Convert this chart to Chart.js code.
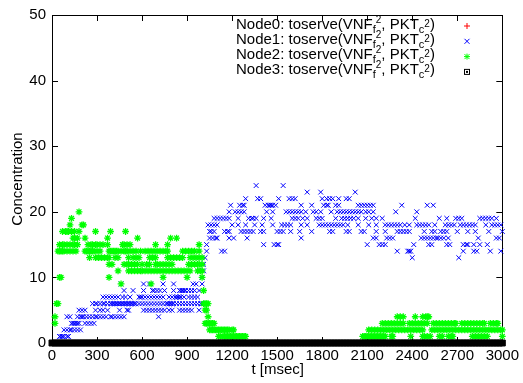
<!DOCTYPE html>
<html>
<head>
<meta charset="utf-8">
<script src="https://cdn.jsdelivr.net/npm/chart.js@4.4.1/dist/chart.umd.min.js"></script>
<style>
  html, body { margin: 0; padding: 0; background: #fff; }
  #wrap { width: 523px; height: 383px; }
</style>
</head>
<body>
<div id="wrap"><canvas id="conc" width="523" height="383"></canvas></div>
<script>
// concentration of toserve(VNF_f2, PKT_c2) per node over time

const xTicks = [0, 300, 600, 900, 1200, 1500, 1800, 2100, 2400, 2700, 3000];
const yTicks = [0, 10, 20, 30, 40, 50];
const nodeNames = ['Node0', 'Node1', 'Node2', 'Node3'];

// sample times where Node0 / Node3 sit at zero
const zeroTimes = [
  0, 20, 40, 60, 80, 100, 120, 140, 160, 180,
  200, 220, 240, 260, 280, 300, 320, 340, 360, 380,
  400, 420, 440, 460, 480, 500, 520, 540, 560, 580,
  600, 620, 640, 660, 680, 700, 720, 740, 760, 780,
  800, 820, 840, 860, 880, 900, 920, 940, 960, 980,
  1000, 1020, 1040, 1060, 1080, 1100, 1120, 1140, 1160, 1180,
  1200, 1220, 1240, 1260, 1280, 1300, 1320, 1340, 1360, 1380,
  1400, 1420, 1440, 1460, 1480, 1500, 1520, 1540, 1560, 1580,
  1600, 1620, 1640, 1660, 1680, 1700, 1720, 1740, 1760, 1780,
  1800, 1820, 1840, 1860, 1880, 1900, 1920, 1940, 1960, 1980,
  2000, 2020, 2040, 2060, 2080, 2100, 2120, 2140, 2160, 2180,
  2200, 2220, 2240, 2260, 2280, 2300, 2320, 2340, 2360, 2380,
  2400, 2420, 2440, 2460, 2480, 2500, 2520, 2540, 2560, 2580,
  2600, 2620, 2640, 2660, 2680, 2700, 2720, 2740, 2760, 2780,
  2800, 2820, 2840, 2860, 2880, 2900, 2920, 2940, 2960, 2980,
  3000
];

// [concentration, times at which that level was recorded]
const node0Rows = [[0, zeroTimes]];
const node3Rows = [[0, zeroTimes]];

const node1Rows = [
  [1, [50, 60, 70, 80, 100, 110]],
  [2, [80, 100, 120, 130, 150, 170, 190]],
  [3, [130, 140, 150, 160, 170, 180, 220, 240, 260, 280]],
  [4, [100, 120, 170, 190, 200, 210, 230, 250, 270, 290, 300, 320, 340, 360, 390, 400, 420, 440, 460, 480, 710]],
  [5, [180, 200, 220, 290, 320, 340, 370, 450, 500, 510, 610, 630, 650, 670, 690, 710, 730, 750, 780, 800, 850, 870, 890, 910, 930, 980]],
  [6, [270, 290, 300, 320, 340, 350, 370, 390, 400, 410, 420, 430, 440, 450, 460, 470, 480, 490, 500, 510, 520, 530, 540, 550, 560, 580, 600, 620, 640, 660, 680, 700, 720, 740, 760, 770, 780, 790, 800, 810, 830, 850, 870, 890, 910, 930, 950, 970, 990, 1000]],
  [7, [340, 360, 380, 400, 420, 440, 470, 490, 520, 580, 590, 600, 620, 640, 660, 680, 700, 720, 740, 780, 800, 820, 830, 840, 850, 860, 880, 910, 930, 950, 970]],
  [8, [480, 540, 610, 670, 680, 700, 720, 750, 810, 850, 860, 870, 880, 890, 910, 930, 950, 980]],
  [9, [460, 610, 650, 740, 810, 940, 960, 1000]],
  [10, [1000]],
  [11, [1010]],
  [12, [1010]],
  [13, [1020, 2400, 2710]],
  [14, [1030, 1130, 1150, 2300, 2370, 2380, 2390, 2740, 2810, 2830, 2920, 2990]],
  [15, [1030, 1410, 1480, 1500, 1510, 2100, 2180, 2200, 2220, 2410, 2510, 2530, 2630, 2650, 2740, 2760, 2770, 2810, 2850, 2900]],
  [16, [1050, 1070, 1090, 1100, 1180, 1210, 1300, 1660, 2140, 2160, 2230, 2250, 2270, 2460, 2480, 2500, 2520, 2540, 2560, 2570, 2590, 2610, 2640, 2840, 2960, 2980]],
  [17, [1050, 1060, 1080, 1150, 1170, 1180, 1260, 1280, 1300, 1320, 1340, 1390, 1410, 1500, 1520, 1540, 1590, 1650, 1730, 1850, 1870, 1960, 1980, 2060, 2080, 2160, 2220, 2300, 2320, 2340, 2360, 2380, 2480, 2530, 2550, 2590, 2610, 2630, 2700, 2770, 2820, 2910, 3000]],
  [18, [1040, 1060, 1080, 1100, 1200, 1240, 1290, 1350, 1400, 1470, 1530, 1550, 1570, 1590, 1660, 1700, 1780, 1800, 1820, 1840, 1860, 1880, 1900, 1920, 1940, 1970, 2040, 2110, 2160, 2220, 2240, 2260, 2280, 2300, 2320, 2350, 2380, 2430, 2450, 2470, 2490, 2510, 2550, 2620, 2640, 2660, 2680, 2720, 2740, 2760, 2780, 2800, 2820, 2890, 2930, 2950, 2970, 2990]],
  [19, [1080, 1100, 1120, 1140, 1160, 1180, 1240, 1310, 1330, 1340, 1360, 1410, 1460, 1600, 1620, 1640, 1670, 1700, 1760, 1780, 1800, 1890, 1930, 1950, 1970, 1990, 2010, 2040, 2090, 2130, 2160, 2200, 2420, 2580, 2630, 2690, 2710, 2730, 2850, 2870, 2890, 2910, 2930, 2960]],
  [20, [1180, 1220, 1240, 1260, 1280, 1430, 1470, 1560, 1580, 1600, 1620, 1640, 1660, 1690, 1740, 1760, 1790, 1860, 1900, 1920, 1940, 1960, 1980, 2000, 2020, 2040, 2060, 2090, 2110, 2140, 2290, 2430]],
  [21, [1190, 1250, 1270, 1280, 1420, 1440, 1450, 1460, 1470, 1490, 1660, 1730, 1810, 1830, 1840, 1890, 1910, 2040, 2060, 2080, 2100, 2120, 2140, 2330, 2500, 2540]],
  [22, [1290, 1370, 1390, 1510, 1580, 1600, 1620, 1800, 1830, 1850, 1870, 1910, 1960, 1980]],
  [23, [1700, 1790, 2020]],
  [24, [1360, 1540]]
];

const node2Rows = [
  [1, [1110, 1120, 1140, 1150, 1160, 1170, 1180, 1190, 1200, 1210, 1220, 1230, 1240, 1250, 1260, 1270, 1280, 1290,
       2070, 2080, 2090, 2100, 2110, 2120, 2130, 2140, 2150, 2160, 2170, 2180, 2190, 2200, 2210, 2220, 2260, 2270, 2390,
       2470, 2480, 2500, 2520, 2580, 2600, 2640, 2660, 2670, 2800, 2820, 2840, 2860, 2880, 2900, 3000]],
  [2, [1050, 1060, 1070, 1080, 1090, 1100, 1110, 1120, 1130, 1140, 1150, 1160, 1170, 1180, 1200, 1210,
       2110, 2130, 2150, 2170, 2190, 2210, 2230, 2250, 2270, 2290, 2310, 2330, 2350, 2370, 2390, 2410, 2430, 2450, 2470,
       2530, 2550, 2570, 2590, 2610, 2630, 2650, 2670, 2690, 2710, 2730, 2750, 2770, 2790, 2810, 2830, 2850, 2870,
       2890, 2910, 2930, 2950, 2970, 2990, 3000]],
  [3, [20, 1020, 1030, 1040, 1050, 1060, 1070, 1080,
       2200, 2220, 2240, 2260, 2280, 2300, 2320, 2340, 2380, 2400, 2420, 2440, 2460, 2480, 2500, 2540, 2560, 2580,
       2600, 2620, 2640, 2660, 2680, 2690, 2730, 2750, 2770, 2790, 2810, 2830, 2850, 2870, 2880, 2920, 2940, 2960, 2970]],
  [4, [20, 1040, 2300, 2320, 2340, 2420, 2470, 2490, 2500, 2510]],
  [5, [1020, 1030]],
  [6, [30, 40, 1010, 1020, 1030, 1040]],
  [8, [1010]],
  [9, [460, 660]],
  [10, [50, 60, 380, 740, 900, 1000]],
  [11, [440, 510, 530, 550, 570, 590, 600, 620, 640, 660, 680, 700, 720, 740, 760, 780, 800, 820, 840, 860, 880, 900, 920, 970, 990, 1000]],
  [12, [380, 400, 480, 500, 510, 530, 550, 570, 600, 630, 650, 690, 700, 720, 740, 760, 780, 800, 910, 930, 950, 970, 980, 1000]],
  [13, [250, 290, 310, 330, 350, 370, 380, 420, 440, 510, 540, 560, 580, 650, 670, 690, 770, 790, 810, 830, 850, 870, 920, 940, 960, 980, 1000]],
  [14, [40, 50, 60, 70, 80, 100, 120, 140, 160, 220, 230, 240, 250, 260, 270, 280, 300, 320, 380, 390, 400, 410, 420, 430, 440, 460, 480, 490, 500, 520, 540, 560, 590, 620, 640, 660, 680, 700, 720, 740, 760, 770, 870, 890, 910, 930, 950, 980]],
  [15, [50, 70, 80, 100, 120, 140, 150, 170, 240, 260, 270, 290, 300, 320, 340, 370, 470, 480, 500, 520, 690, 770, 980]],
  [16, [140, 150, 170, 220, 370, 570, 790, 830]],
  [17, [70, 90, 100, 110, 130, 150, 180, 290, 390, 490]],
  [18, [120, 200, 210]],
  [19, [130]],
  [20, [180]]
];

function toPoints(rows) {
  const pts = [];
  rows.forEach(([level, times]) => times.forEach(t => pts.push({ x: t, y: level })));
  return pts;
}

const FONT = '"Liberation Sans", Arial, sans-serif';
const colors = ['#ff0000', '#0000ff', '#00ff00', '#000000'];
const styles = ['cross', 'crossRot', 'star', 'rect'];

// border box + inward ticks on all four sides (gnuplot style)
const framePlugin = {
  id: 'frame',
  beforeDatasetsDraw(chart) {
    const { ctx, chartArea: a, scales: { x, y } } = chart;
    const tl = 6;
    ctx.save();
    ctx.strokeStyle = '#000';
    ctx.lineWidth = 1;
    ctx.beginPath();
    xTicks.forEach(v => {
      const px = Math.round(x.getPixelForValue(v)) + 0.5;
      ctx.moveTo(px, a.bottom); ctx.lineTo(px, a.bottom - tl);
      ctx.moveTo(px, a.top); ctx.lineTo(px, a.top + tl);
    });
    yTicks.forEach(v => {
      const py = Math.round(y.getPixelForValue(v)) + 0.5;
      ctx.moveTo(a.left, py); ctx.lineTo(a.left + tl, py);
      ctx.moveTo(a.right, py); ctx.lineTo(a.right - tl, py);
    });
    ctx.stroke();
    ctx.strokeRect(Math.round(a.left) + 0.5, Math.round(a.top) + 0.5,
      Math.round(a.right - a.left), Math.round(a.bottom - a.top));
    ctx.restore();
  },
  afterDraw(chart) {
    const { ctx, chartArea: a } = chart;
    ctx.save();
    ctx.fillStyle = '#000';
    ctx.font = '15px ' + FONT;
    ctx.textAlign = 'center';
    ctx.textBaseline = 'alphabetic';
    ctx.fillText('t [msec]', (a.left + a.right) / 2 + 0.5, 374);
    ctx.translate(22, (a.top + a.bottom) / 2);
    ctx.rotate(-Math.PI / 2);
    ctx.fillText('Concentration', 0, 0);
    ctx.restore();
  }
};

function drawMarker(ctx, style, color, x, y) {
  ctx.save();
  ctx.strokeStyle = color;
  ctx.fillStyle = color;
  ctx.lineWidth = 1;
  ctx.beginPath();
  if (style === 'cross' || style === 'star') {
    ctx.moveTo(x - 3, y); ctx.lineTo(x + 3, y);
    ctx.moveTo(x, y - 3); ctx.lineTo(x, y + 3);
  }
  if (style === 'crossRot' || style === 'star') {
    ctx.moveTo(x - 2.5, y - 2.5); ctx.lineTo(x + 2.5, y + 2.5);
    ctx.moveTo(x - 2.5, y + 2.5); ctx.lineTo(x + 2.5, y - 2.5);
  }
  ctx.stroke();
  if (style === 'rect') {
    ctx.strokeRect(x - 2.5, y - 2.5, 5, 5);
    ctx.fillRect(x - 1, y - 1, 2, 2);
  }
  ctx.restore();
}

// key with sub/superscripted species name
const keyPlugin = {
  id: 'key',
  afterDraw(chart) {
    const { ctx } = chart;
    ctx.save();
    ctx.fillStyle = '#000';
    ctx.textAlign = 'left';
    ctx.textBaseline = 'alphabetic';
    nodeNames.forEach((name, i) => {
      const base = 28.5 + i * 15.3;
      const pieces = [
        [name + ': toserve(VNF', 15, 0],
        ['f', 11, 4],
        ['2', 10, -6],
        [', PKT', 15, 0],
        ['c', 11, 4],
        ['2', 10, -2],
        [')', 15, 0]
      ];
      let x = 236;
      pieces.forEach(([txt, size, dy]) => {
        ctx.font = size + 'px ' + FONT;
        ctx.fillText(txt, x, base + dy);
        x += ctx.measureText(txt).width;
      });
      drawMarker(ctx, styles[i], colors[i], 467, base - 2.5);
    });
    ctx.restore();
  }
};

const datasets = [node0Rows, node1Rows, node2Rows, node3Rows].map((rows, i) => ({
  label: nodeNames[i],
  data: toPoints(rows),
  pointStyle: styles[i],
  pointRadius: [3, 3.4, 3.4, 4.2][i],
  pointBorderWidth: [1, 1, 1.3, 1][i],
  borderColor: colors[i],
  backgroundColor: colors[i],
  pointBackgroundColor: colors[i],
  showLine: false,
  clip: false,
  order: 3 - i
}));

new Chart(document.getElementById('conc'), {
  type: 'scatter',
  data: { datasets },
  options: {
    responsive: false,
    animation: false,
    devicePixelRatio: 1,
    events: [],
    layout: { padding: { top: 13, right: 19, left: 0, bottom: 0 } },
    plugins: { legend: { display: false }, tooltip: { enabled: false } },
    scales: {
      x: {
        type: 'linear',
        min: 0,
        max: 3000,
        afterBuildTicks: s => { s.ticks = xTicks.map(v => ({ value: v })); },
        afterFit: s => { s.height = 40; },
        grid: { display: false, drawTicks: false },
        border: { display: false },
        ticks: {
          color: '#000', font: { family: FONT, size: 15 }, padding: 4,
          maxRotation: 0, autoSkip: false, callback: v => String(v)
        }
      },
      y: {
        type: 'linear',
        min: 0,
        max: 50,
        afterBuildTicks: s => { s.ticks = yTicks.map(v => ({ value: v })); },
        afterFit: s => { s.width = 52; },
        grid: { display: false, drawTicks: false },
        border: { display: false },
        ticks: { color: '#000', font: { family: FONT, size: 15 }, padding: 6, callback: v => String(v) }
      }
    }
  },
  plugins: [framePlugin, keyPlugin]
});
</script>
</body>
</html>
